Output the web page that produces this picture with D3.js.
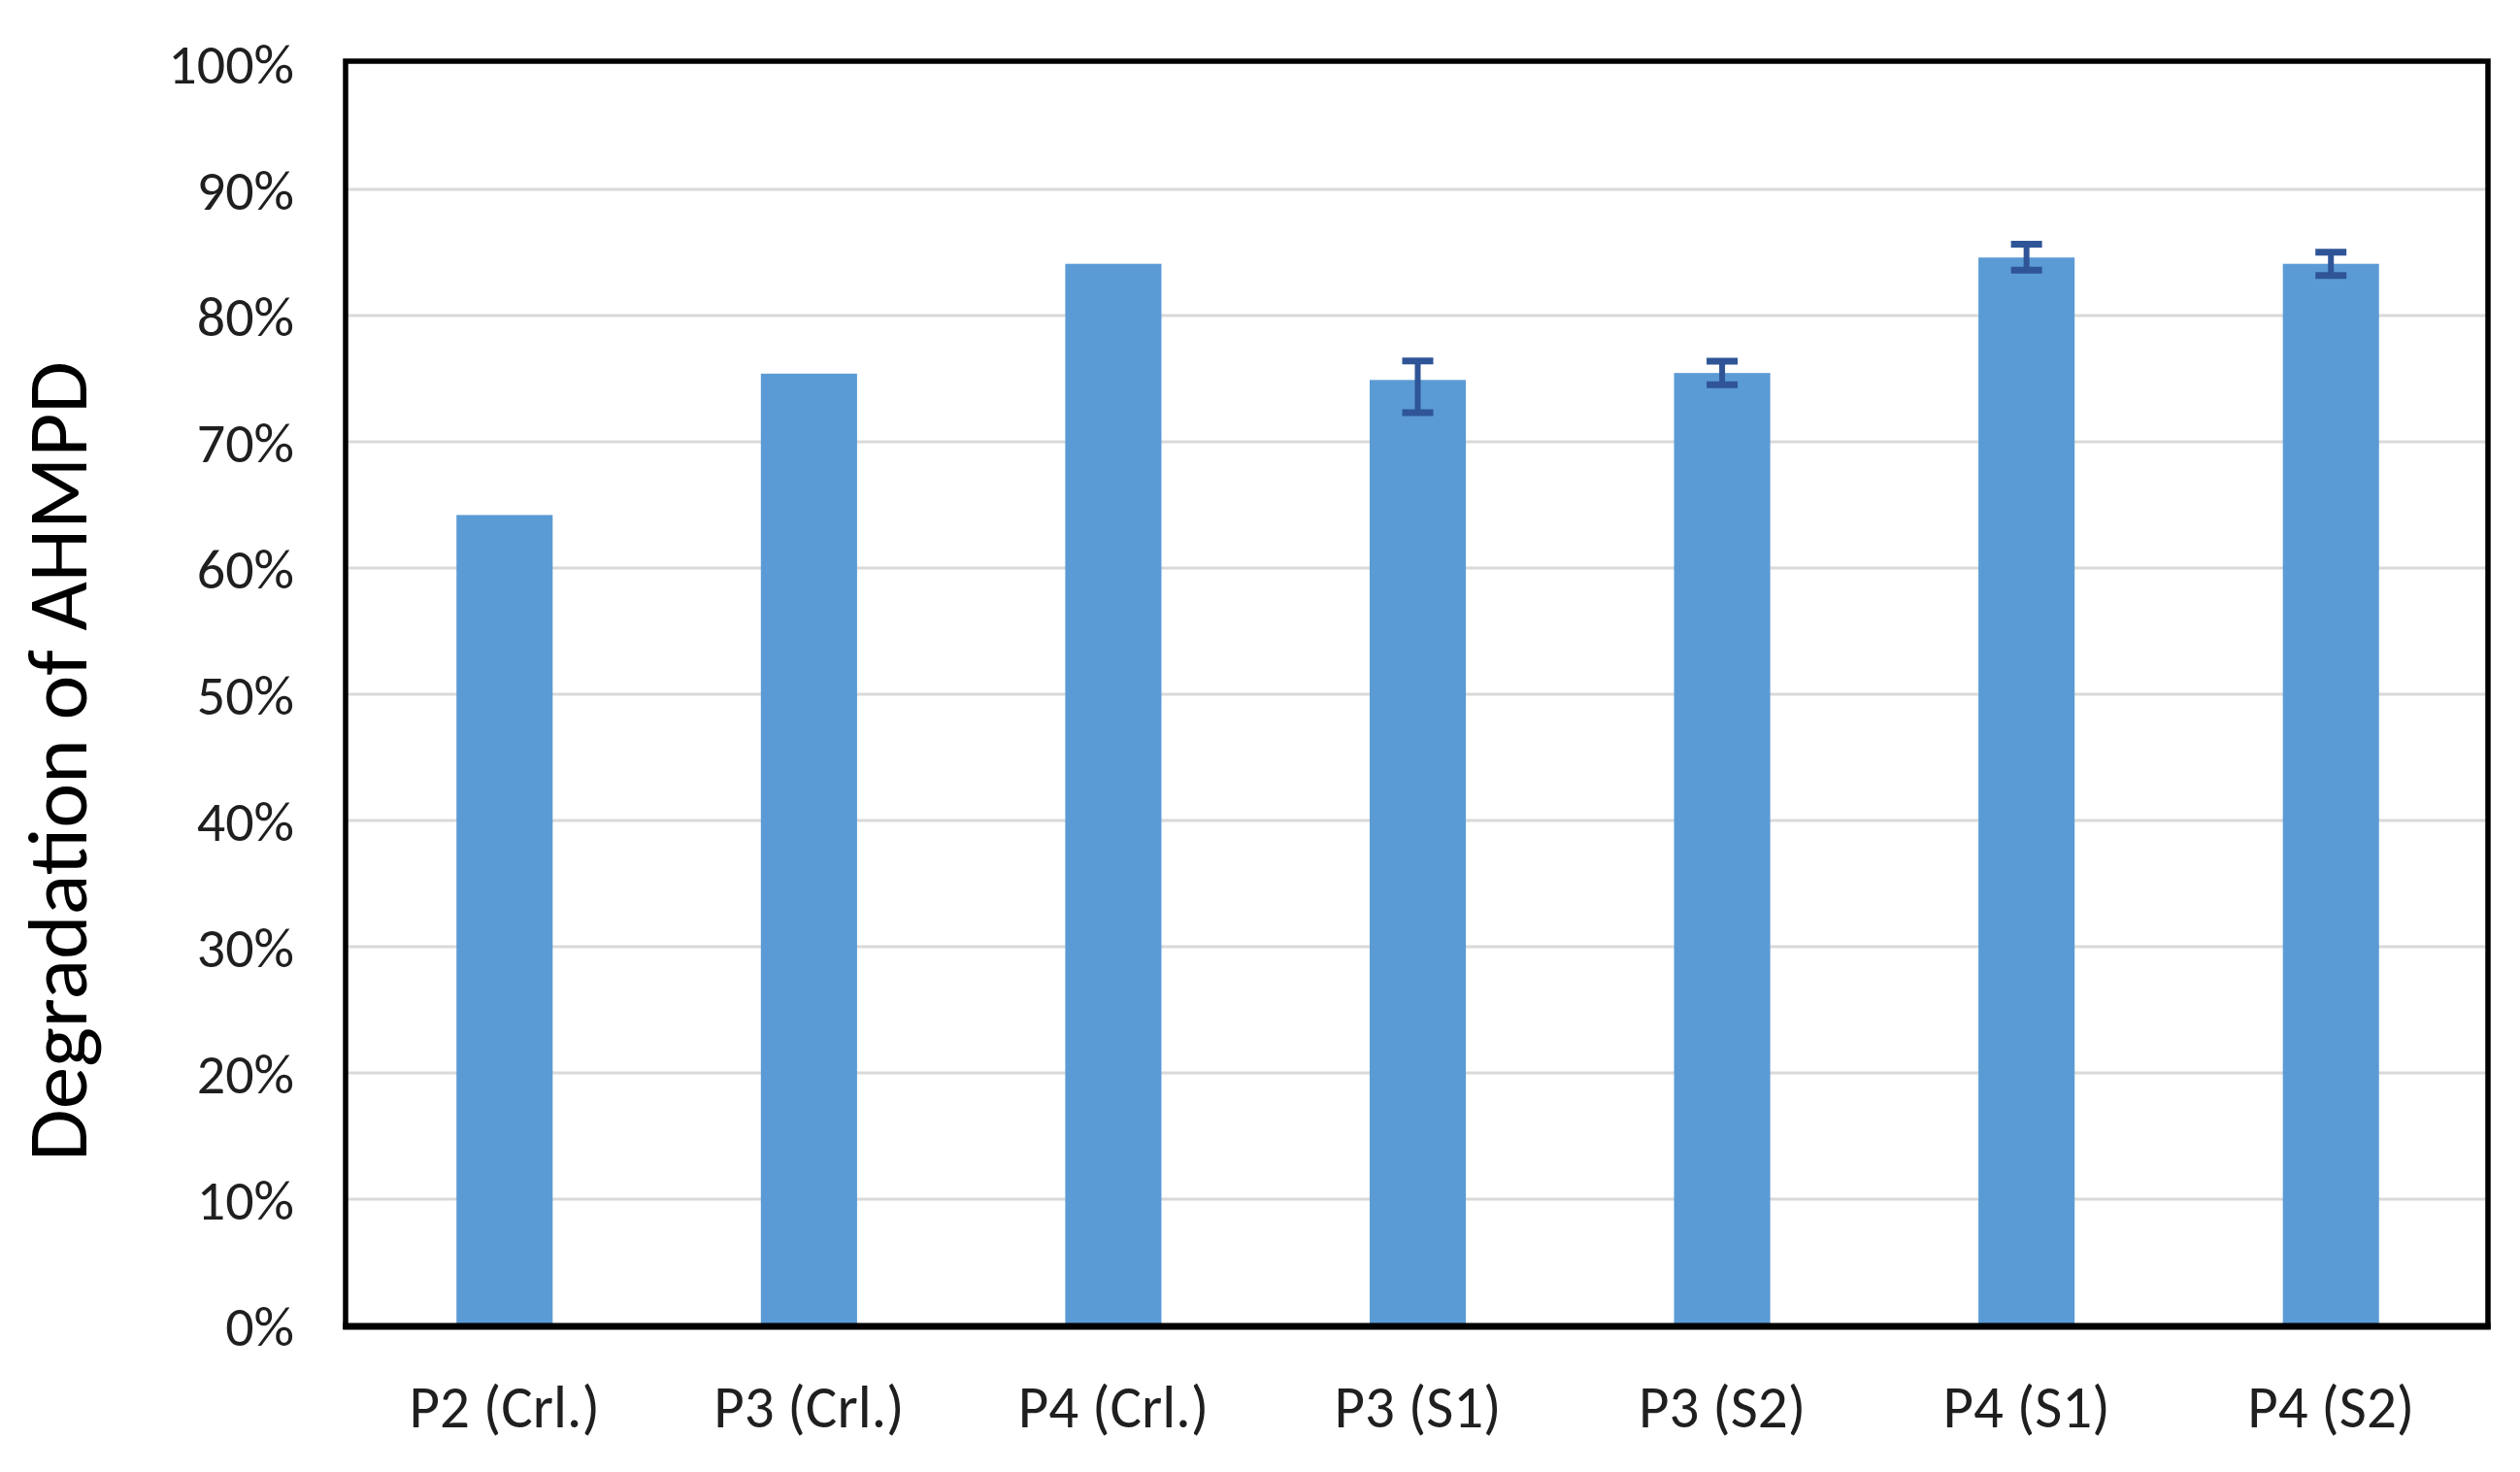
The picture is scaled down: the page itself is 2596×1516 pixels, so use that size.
<!DOCTYPE html>
<html>
<head>
<meta charset="utf-8">
<script src="https://cdn.jsdelivr.net/npm/d3@7"></script>
<style>
  html, body { margin: 0; padding: 0; background: #fff; }
  svg { display: block; }
  .tick text { font-family: Carlito, Calibri, Lato, sans-serif; fill: #1f1f1f; }
</style>
</head>
<body>
<div id="chart"></div>
<script>
// chart data
const categories = ["P2 (Crl.)", "P3 (Crl.)", "P4 (Crl.)", "P3 (S1)", "P3 (S2)", "P4 (S1)", "P4 (S2)"];
const degradation = [0.642, 0.754, 0.841, 0.749, 0.7545, 0.846, 0.841];
const errPlus  = [0, 0, 0, 0.015, 0.0094, 0.0105, 0.0092];
const errMinus = [0, 0, 0, 0.026, 0.0094, 0.0100, 0.0093];
const yTicks = [0, 0.1, 0.2, 0.3, 0.4, 0.5, 0.6, 0.7, 0.8, 0.9, 1.0];

const width = 2596, height = 1516;
// plot frame
const frame = { left: 356, right: 2563, top: 63, bottom: 1366 };

const svg = d3.select("#chart")
    .append("svg")
    .attr("width", width)
    .attr("height", height);

svg.append("rect")
    .attr("width", width)
    .attr("height", height)
    .attr("fill", "#fff");

const x = d3.scaleBand()
    .domain(categories)
    .range([363, 2558])
    .paddingInner(0.684)
    .paddingOuter(0.342);

const y = d3.scaleLinear()
    .domain([0, 1])
    .range([1365, 65]);

const data = categories.map((c, i) => ({
    cat: c,
    value: degradation[i],
    plus: errPlus[i],
    minus: errMinus[i]
}));

// gridlines
svg.append("g")
    .selectAll("line")
    .data(yTicks.filter(d => d > 0 && d < 1))
    .enter()
    .append("line")
    .attr("x1", frame.left)
    .attr("x2", frame.right)
    .attr("y1", d => y(d))
    .attr("y2", d => y(d))
    .attr("stroke", "#d9d9d9")
    .attr("stroke-width", 3);

// bars
svg.append("g")
    .selectAll("rect")
    .data(data)
    .enter()
    .append("rect")
    .attr("x", d => x(d.cat))
    .attr("y", d => y(d.value))
    .attr("width", x.bandwidth())
    .attr("height", d => y(0) - y(d.value))
    .attr("fill", "#5b9bd5");

// error bars
const errColor = "#2f5597";
const capW = 32;
const eb = svg.append("g")
    .selectAll("g")
    .data(data.filter(d => d.plus > 0 || d.minus > 0))
    .enter()
    .append("g");

eb.append("line")
    .attr("x1", d => x(d.cat) + x.bandwidth() / 2)
    .attr("x2", d => x(d.cat) + x.bandwidth() / 2)
    .attr("y1", d => y(d.value + d.plus))
    .attr("y2", d => y(d.value - d.minus))
    .attr("stroke", errColor)
    .attr("stroke-width", 6);

eb.selectAll(".cap")
    .data(d => [d.value + d.plus, d.value - d.minus].map(v => ({ cat: d.cat, v: v })))
    .enter()
    .append("line")
    .attr("class", "cap")
    .attr("x1", d => x(d.cat) + x.bandwidth() / 2 - capW / 2)
    .attr("x2", d => x(d.cat) + x.bandwidth() / 2 + capW / 2)
    .attr("y1", d => y(d.v))
    .attr("y2", d => y(d.v))
    .attr("stroke", errColor)
    .attr("stroke-width", 7);

// frame
svg.append("rect")
    .attr("x", frame.left)
    .attr("y", frame.top)
    .attr("width", frame.right - frame.left)
    .attr("height", frame.bottom - frame.top)
    .attr("fill", "none")
    .attr("stroke", "#000")
    .attr("stroke-width", 5.5);

// y axis
svg.append("g")
    .attr("transform", `translate(${frame.left},0)`)
    .call(d3.axisLeft(y)
        .tickValues(yTicks)
        .tickFormat(d3.format(".0%"))
        .tickSize(0)
        .tickPadding(53))
    .call(g => g.select(".domain").remove())
    .selectAll("text")
    .attr("font-size", 58)
    .attr("dy", "0.36em");

// x axis
svg.append("g")
    .attr("transform", `translate(0,${frame.bottom})`)
    .call(d3.axisBottom(x).tickSize(0))
    .call(g => g.select(".domain")
        .attr("stroke", "#000")
        .attr("stroke-width", 7)
        .attr("d", `M${frame.left - 2.75},0H${frame.right + 2.75}`))
    .selectAll("text")
    .attr("font-size", 61)
    .attr("y", 104)
    .attr("dy", 0);

// y axis title
svg.append("text")
    .attr("transform", "translate(89,784) rotate(-90)")
    .attr("text-anchor", "middle")
    .attr("font-family", "Carlito, Calibri, Lato, sans-serif")
    .attr("font-size", 87)
    .attr("fill", "#000")
    .text("Degradation of AHMPD");
</script>
</body>
</html>
